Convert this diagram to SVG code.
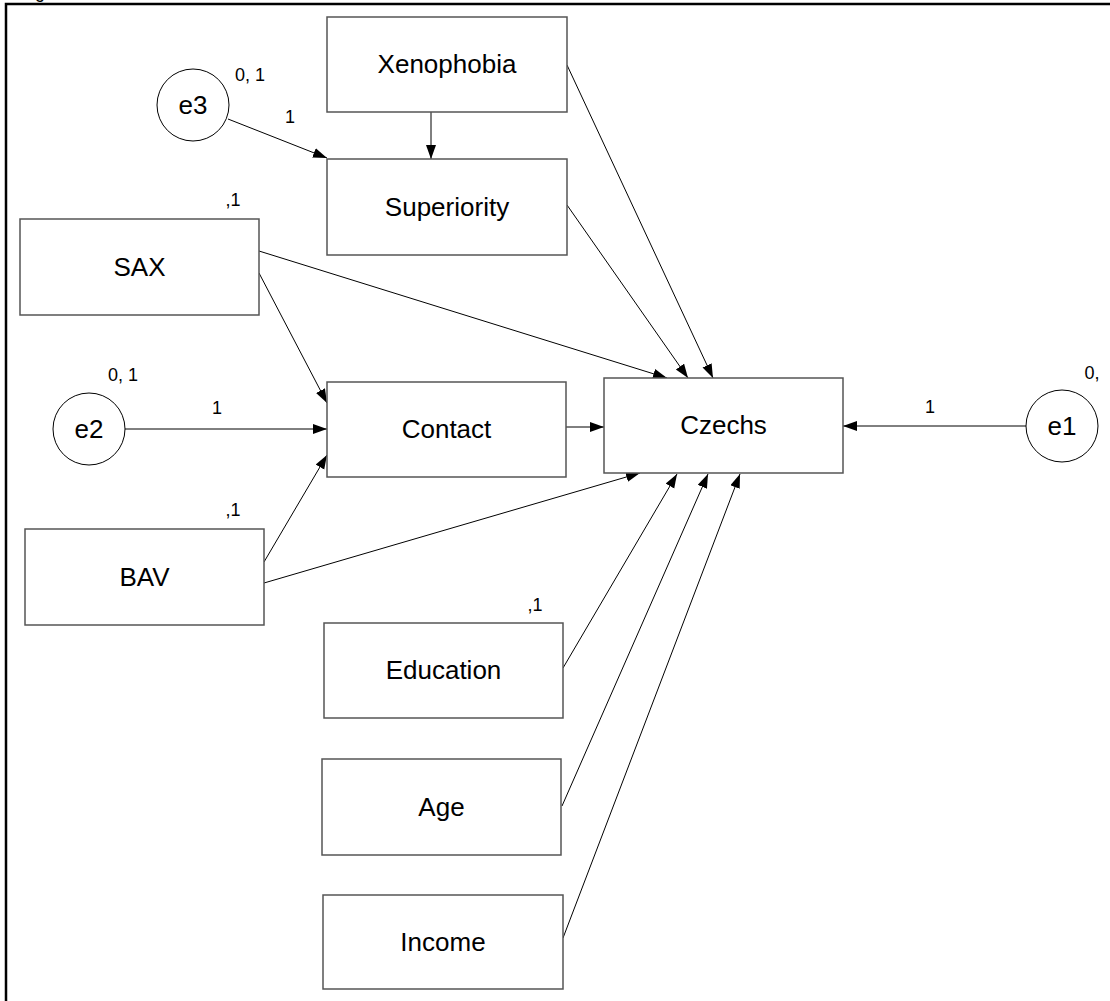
<svg xmlns="http://www.w3.org/2000/svg" width="1110" height="1001" viewBox="0 0 1110 1001">
<style>
.box{fill:#fff;stroke:#555;stroke-width:1.5}
.circ{fill:#fff;stroke:#000;stroke-width:1}
.lbl{font-family:"Liberation Sans",Arial,sans-serif;font-size:26px;fill:#000;text-anchor:middle}
.sm{font-family:"Liberation Sans",Arial,sans-serif;font-size:18px;fill:#000;text-anchor:middle}
.edge{stroke:#000;stroke-width:1;fill:none;marker-end:url(#arr)}
</style>
<defs>
<marker id="arr" markerUnits="userSpaceOnUse" markerWidth="15" markerHeight="11" refX="14" refY="5" orient="auto">
<path d="M0,0 L14,5 L0,10 z" fill="#000"/>
</marker>
</defs>
<rect width="1110" height="1001" fill="#fff"/>
<path d="M6,1001 V4 H1110" fill="none" stroke="#000" stroke-width="2.5"/>
<text x="40" y="-2" class="sm" font-size="20">g</text>

<g id="connectors">
<line class="edge" x1="431" y1="112" x2="431" y2="159"/>
<line class="edge" x1="228" y1="119" x2="327" y2="158"/>
<line class="edge" x1="567" y1="65" x2="713" y2="378"/>
<line class="edge" x1="567" y1="205" x2="688" y2="378"/>
<line class="edge" x1="259" y1="251" x2="667" y2="378"/>
<line class="edge" x1="259" y1="273" x2="327" y2="403"/>
<line class="edge" x1="125" y1="429" x2="327" y2="429"/>
<line class="edge" x1="264" y1="562" x2="327" y2="455"/>
<line class="edge" x1="566" y1="427" x2="604" y2="427"/>
<line class="edge" x1="264" y1="583" x2="640" y2="473"/>
<line class="edge" x1="563" y1="668" x2="677" y2="474"/>
<line class="edge" x1="562" y1="806" x2="708" y2="474"/>
<line class="edge" x1="563" y1="938" x2="740" y2="474"/>
<line class="edge" x1="1026" y1="426" x2="843" y2="426"/>
<text class="sm" x="290" y="123">1</text>
<text class="sm" x="217" y="414">1</text>
<text class="sm" x="930" y="413">1</text>
</g>

<g id="xenophobia"><rect class="box" x="327" y="17" width="240" height="95"/><text class="lbl" x="447" y="73">Xenophobia</text></g>
<g id="superiority"><rect class="box" x="327" y="159" width="240" height="96"/><text class="lbl" x="447" y="216">Superiority</text></g>
<g id="sax"><rect class="box" x="20" y="219" width="239" height="96"/><text class="lbl" x="139.5" y="276">SAX</text><text class="sm" x="233" y="206">,1</text></g>
<g id="contact"><rect class="box" x="327" y="382" width="239" height="95"/><text class="lbl" x="446.5" y="438">Contact</text></g>
<g id="czechs"><rect class="box" x="604" y="378" width="239" height="95"/><text class="lbl" x="723.5" y="434">Czechs</text></g>
<g id="bav"><rect class="box" x="25" y="529" width="239" height="96"/><text class="lbl" x="144.5" y="586">BAV</text><text class="sm" x="233" y="516">,1</text></g>
<g id="education"><rect class="box" x="324" y="623" width="239" height="95"/><text class="lbl" x="443.5" y="679">Education</text><text class="sm" x="535" y="611">,1</text></g>
<g id="age"><rect class="box" x="322" y="759" width="239" height="96"/><text class="lbl" x="441.5" y="816">Age</text></g>
<g id="income"><rect class="box" x="323" y="895" width="240" height="94"/><text class="lbl" x="443" y="951">Income</text></g>
<g id="e3"><circle class="circ" cx="193" cy="105" r="36"/><text class="lbl" x="193" y="114">e3</text><text class="sm" x="250" y="81">0, 1</text></g>
<g id="e2"><circle class="circ" cx="89" cy="429" r="36"/><text class="lbl" x="89" y="438">e2</text><text class="sm" x="123" y="381">0, 1</text></g>
<g id="e1"><circle class="circ" cx="1062" cy="426" r="36"/><text class="lbl" x="1062" y="435">e1</text><text class="sm" x="1092" y="379">0,</text></g>
</svg>
